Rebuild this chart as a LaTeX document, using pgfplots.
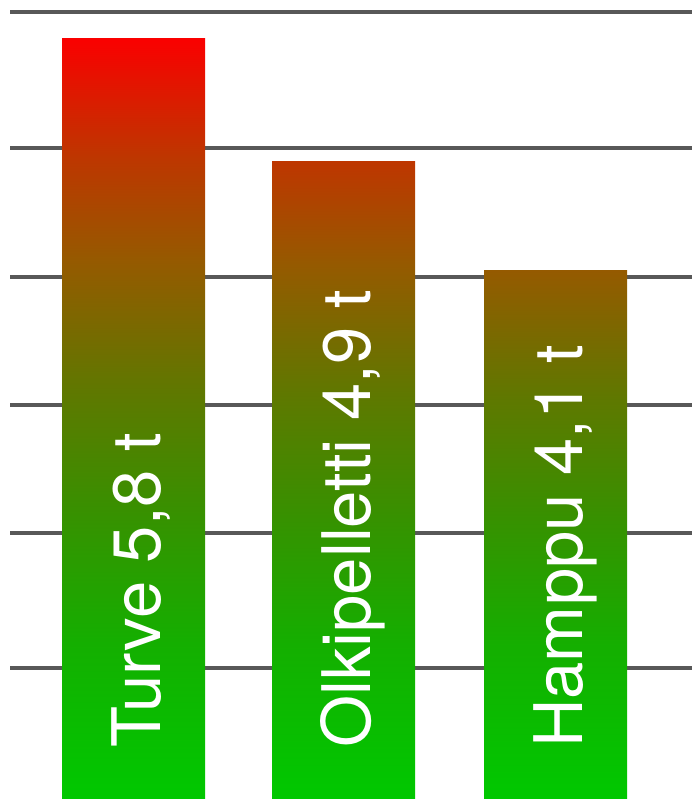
\documentclass[border=0pt]{standalone}
\usepackage{pgfplots}
\pgfplotsset{compat=1.18}
\usepackage{fontspec}
\newfontfamily\labelfont{TeX Gyre Heros}
\definecolor{g0}{RGB}{0,200,0}
\definecolor{g1}{RGB}{20,175,0}
\definecolor{g2}{RGB}{55,145,0}
\definecolor{g3}{RGB}{95,120,0}
\definecolor{g41}{RGB}{149,90,0}
\definecolor{g49}{RGB}{190,54,0}
\definecolor{g58}{RGB}{250,0,0}
\definecolor{gridc}{RGB}{88,88,88}
% shading stops: 25bp = value 0, 75bp = top of bar
\pgfdeclareverticalshading{barA}{100bp}{color(0bp)=(g0); color(25bp)=(g0); color(35.23bp)=(g1); color(43.76bp)=(g2); color(51.84bp)=(g3); color(60.34bp)=(g41); color(67.24bp)=(g49); color(75bp)=(g58); color(100bp)=(g58)}
\pgfdeclareverticalshading{barB}{100bp}{color(0bp)=(g0); color(25bp)=(g0); color(37.11bp)=(g1); color(47.2bp)=(g2); color(56.78bp)=(g3); color(66.84bp)=(g41); color(75bp)=(g49); color(100bp)=(g49)}
\pgfdeclareverticalshading{barC}{100bp}{color(0bp)=(g0); color(25bp)=(g0); color(39.48bp)=(g1); color(51.54bp)=(g2); color(62.98bp)=(g3); color(75bp)=(g41); color(100bp)=(g41)}
\begin{document}
\begin{tikzpicture}
\begin{axis}[
  scale only axis,
  width=346pt, height=399.5pt,
  xmin=0, xmax=692, ymin=0.227, ymax=6.081,
  axis lines=none, ticks=none,
  clip=true,
]
\pgfplotsinvokeforeach{1.187,2.176,3.114,4.051,4.996,5.993}{
  \draw[gridc, line width=1.8pt] (axis cs:10,#1) -- (axis cs:692,#1);
}
\addplot[ybar, bar shift=0pt, bar width=143, draw=none, shading=barA] coordinates {(133.5,5.8)};
\addplot[ybar, bar shift=0pt, bar width=143, draw=none, shading=barB] coordinates {(343.5,4.9)};
\addplot[ybar, bar shift=0pt, bar width=143, draw=none, shading=barC] coordinates {(555.5,4.1)};
\tikzset{barlabel/.style={rotate=90, anchor=base west, inner sep=0pt, text=white, font=\labelfont\fontsize{33.5pt}{40pt}\selectfont}}
\node[barlabel] at (axis cs:160,0.60) {Turve 5,8 t};
\node[barlabel] at (axis cs:370,0.60) {Olkipelletti 4,9 t};
\node[barlabel] at (axis cs:582,0.60) {Hamppu 4,1 t};
\end{axis}
\pgfresetboundingbox
\useasboundingbox (0,0) rectangle (346pt,399.5pt);
\end{tikzpicture}
\end{document}
